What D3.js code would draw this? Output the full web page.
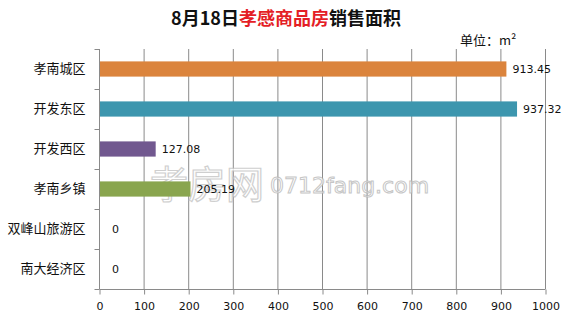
<html>
  <head>
    <meta charset="utf-8" />
    <script src="https://cdn.jsdelivr.net/npm/d3@7"></script>
    <style>
      body { margin: 0; background: #fff; }
      text { font-family: "DejaVu Sans", Verdana, sans-serif; }
      .cjk { font-family: "Noto Sans CJK SC", "Noto Sans", sans-serif; }
    </style>
  </head>

  <body>
    <div id="container"></div>
  </body>
  <script>
    // data
    const categories = ["孝南城区", "开发东区", "开发西区", "孝南乡镇", "双峰山旅游区", "南大经济区"];
    const values = [913.45, 937.32, 127.08, 205.19, 0, 0];
    const barColors = ["#DB843D", "#3D96AE", "#71588F", "#89A54E", "#999", "#999"];
    const xTicks = [0, 100, 200, 300, 400, 500, 600, 700, 800, 900, 1000];

    function drawSVG() {
      const svgW = 572,
        svgH = 320,
        left = 99,
        right = 545,
        top = 49,
        bottom = 289;

      const svg = d3
        .select("#container")
        .append("svg")
        .attr("width", svgW)
        .attr("height", svgH)
        .style("background-color", "#fff");

      const xScale = d3.scaleLinear().domain([0, 1000]).range([left, right]);
      const yScale = d3.scaleBand().domain(categories).range([top, bottom]).padding(0);

      // vertical gridlines
      svg
        .append("g")
        .selectAll("line")
        .data(xTicks.slice(1))
        .enter()
        .append("line")
        .attr("x1", (d) => xScale(d) + 0.5)
        .attr("x2", (d) => xScale(d) + 0.5)
        .attr("y1", top)
        .attr("y2", bottom)
        .attr("stroke", "#8a8a8a");

      // watermark
      const wm = svg.append("g").attr("opacity", 0.8);
      wm.append("text")
        .attr("class", "cjk")
        .attr("x", 150)
        .attr("y", 198)
        .attr("font-size", 38)
        .attr("fill", "#fff")
        .attr("stroke", "#c4c4c4")
        .attr("stroke-width", 1.2)
        .text("孝房网");
      wm.append("text")
        .attr("x", 270)
        .attr("y", 193)
        .attr("font-family", "DejaVu Serif, serif")
        .attr("font-size", 22)
        .attr("fill", "#fff")
        .attr("stroke", "#b8b8b8")
        .attr("stroke-width", 1)
        .text("0712fang.com");

      const barH = yScale.bandwidth() * 0.38;

      svg
        .append("g")
        .selectAll("rect")
        .data(values)
        .enter()
        .append("rect")
        .attr("x", xScale(0))
        .attr("y", (d, i) => yScale(categories[i]) + (yScale.bandwidth() - barH) / 2)
        .attr("width", (d) => xScale(d) - xScale(0))
        .attr("height", barH)
        .attr("fill", (d, i) => barColors[i]);

      // value labels
      svg
        .append("g")
        .selectAll("text")
        .data(values)
        .enter()
        .append("text")
        .attr("x", (d) => xScale(d) + (d === 0 ? 13 : 6))
        .attr("y", (d, i) => yScale(categories[i]) + yScale.bandwidth() / 2)
        .attr("dy", "0.36em")
        .attr("font-size", 11)
        .attr("fill", "#111")
        .text((d) => (d === 0 ? "0" : d3.format(".2f")(d)));

      // x axis
      const xAxis = d3
        .axisBottom(xScale)
        .tickValues(xTicks)
        .tickFormat(d3.format("d"))
        .tickSize(5)
        .tickPadding(8);
      const xg = svg.append("g").attr("transform", `translate(0.5,${bottom + 0.5})`).call(xAxis);
      xg.select(".domain").attr("stroke", "#8a8a8a").attr("d", `M${left},0H${right}`);
      xg.selectAll(".tick line").attr("stroke", "#8a8a8a");
      xg.selectAll(".tick text").attr("font-size", 11).attr("fill", "#111");

      // y axis
      const yAxis = d3.axisLeft(yScale).tickSize(0).tickPadding(14);
      const yg = svg.append("g").attr("transform", `translate(${left + 0.5},0)`).call(yAxis);
      yg.select(".domain").attr("stroke", "#8a8a8a").attr("d", `M0,${top}V${bottom}`);
      yg.selectAll(".tick text").attr("class", "cjk").attr("font-size", 13).attr("fill", "#111");
      yg.selectAll(".bound")
        .data(d3.range(categories.length + 1))
        .enter()
        .append("line")
        .attr("x1", -5)
        .attr("x2", 0)
        .attr("y1", (i) => top + i * yScale.step() + 0.5)
        .attr("y2", (i) => top + i * yScale.step() + 0.5)
        .attr("stroke", "#8a8a8a");

      // title
      const title = svg
        .append("text")
        .attr("class", "cjk")
        .attr("x", svgW / 2)
        .attr("y", 25)
        .attr("text-anchor", "middle")
        .attr("font-size", 18)
        .attr("font-weight", "bold")
        .attr("fill", "#111");
      title.append("tspan").text("8月18日");
      title.append("tspan").attr("fill", "#e41e26").text("孝感商品房");
      title.append("tspan").text("销售面积");

      // unit
      svg
        .append("text")
        .attr("class", "cjk")
        .attr("x", 460)
        .attr("y", 45)
        .attr("font-size", 13)
        .attr("fill", "#111")
        .text("单位：m²");
    }
    drawSVG();
  </script>
</html>
